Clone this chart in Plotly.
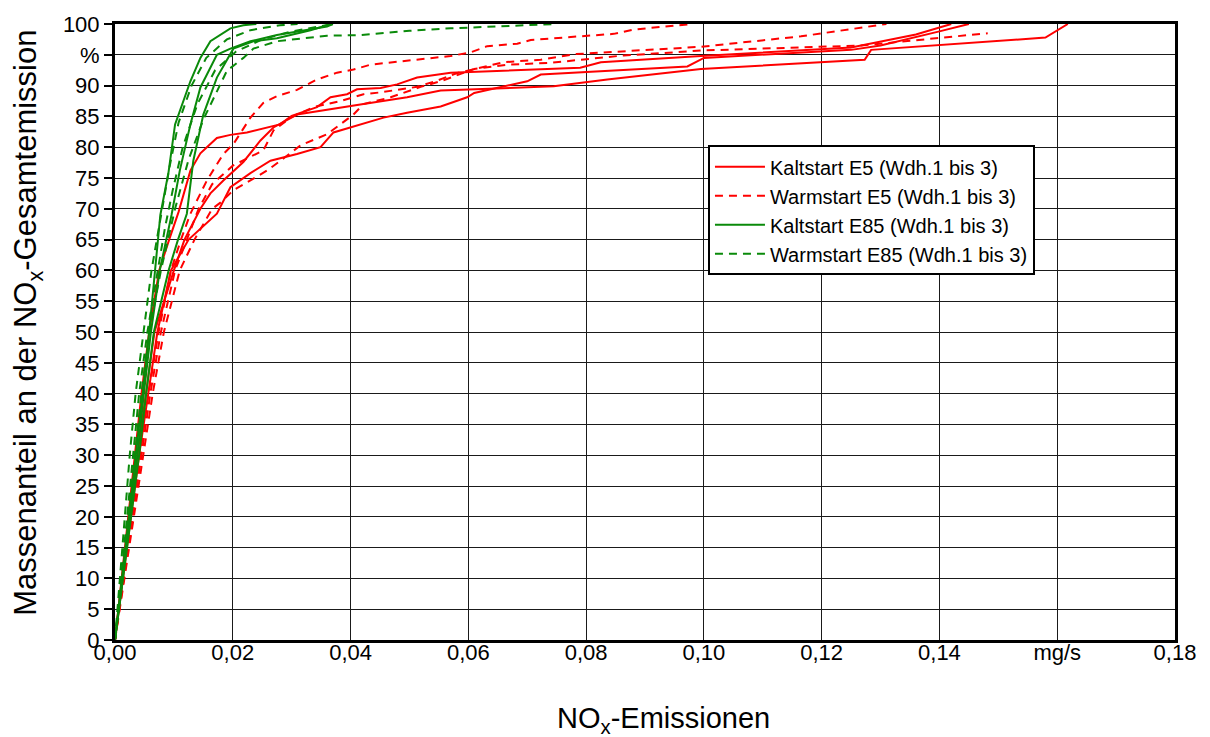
import plotly.graph_objects as go

# ---------------- data ----------------
x_ticks = [0.00, 0.02, 0.04, 0.06, 0.08, 0.10, 0.12, 0.14, 0.16, 0.18]
x_ticktext = ["0,00", "0,02", "0,04", "0,06", "0,08", "0,10", "0,12", "0,14", "mg/s", "0,18"]
y_ticks = list(range(0, 101, 5))
y_ticktext = [str(v) for v in range(0, 95, 5)] + ["%", "100"]

# Kaltstart E5 (red solid)
ks_e5_1_x = [0, 0.0011, 0.0022, 0.0033, 0.0045, 0.0058, 0.0075, 0.0092, 0.0108, 0.0128, 0.0145, 0.0156, 0.0173, 0.0196, 0.0224, 0.028, 0.030, 0.0343, 0.0366, 0.0394, 0.0411, 0.0451, 0.0479, 0.0513, 0.057, 0.079, 0.0825, 0.0995, 0.125, 0.136, 0.142]
ks_e5_1_y = [0, 10, 20, 30, 40, 50, 60, 65, 69.5, 76.2, 79, 80, 81.5, 82, 82.4, 83.7, 85.1, 86.5, 88.1, 88.6, 89.4, 89.6, 90.2, 91.3, 92.1, 92.9, 93.8, 94.8, 96.2, 98.3, 100]
ks_e5_2_x = [0, 0.0012, 0.0025, 0.0038, 0.0052, 0.0067, 0.0100, 0.0118, 0.0145, 0.0162, 0.0184, 0.0196, 0.0218, 0.0247, 0.0269, 0.0309, 0.0366, 0.0422, 0.0496, 0.0553, 0.0745, 0.0836, 0.0995, 0.1273, 0.1284, 0.158, 0.1618]
ks_e5_2_y = [0, 10, 20, 30, 40, 50, 60, 65, 70, 72.5, 74.6, 75.7, 77.6, 81.1, 83.2, 85.3, 86.2, 87, 88.1, 89.2, 89.9, 91, 92.7, 94.2, 95.8, 97.8, 100]
ks_e5_3_x = [0, 0.0013, 0.0027, 0.0041, 0.0056, 0.0072, 0.0095, 0.0125, 0.0173, 0.0196, 0.023, 0.0264, 0.0309, 0.0349, 0.0371, 0.04, 0.0456, 0.0496, 0.0553, 0.0598, 0.061, 0.07, 0.0723, 0.0972, 0.100, 0.125, 0.130, 0.140, 0.145]
ks_e5_3_y = [0, 10, 20, 30, 40, 50, 60, 65, 69.2, 73.5, 75.8, 77.8, 78.9, 80, 82.4, 83.2, 84.8, 85.6, 86.6, 88.1, 88.8, 90.7, 91.8, 93.1, 94.5, 95.8, 96.5, 98.8, 100]

# Warmstart E5 (red dashed)
ws_e5_1_x = [0, 0.0014, 0.0028, 0.0042, 0.0057, 0.0074, 0.0095, 0.0112, 0.0128, 0.0156, 0.0184, 0.0201, 0.023, 0.0252, 0.0275, 0.0309, 0.0343, 0.0377, 0.0405, 0.0434, 0.0541, 0.057, 0.0604, 0.0632, 0.0683, 0.0706, 0.079, 0.0847, 0.0881, 0.095, 0.098]
ws_e5_1_y = [0, 10, 20, 30, 40, 50, 60, 65, 69.2, 74.6, 78.9, 80.5, 84.8, 87.2, 88.3, 89.3, 91, 92.1, 92.6, 93.4, 94.5, 94.8, 95.4, 96.4, 96.8, 97.4, 98, 98.4, 99.1, 99.7, 100]
ws_e5_2_x = [0, 0.0015, 0.003, 0.0045, 0.006, 0.0078, 0.0102, 0.0122, 0.0142, 0.0165, 0.020, 0.0252, 0.0269, 0.0298, 0.0337, 0.0383, 0.0422, 0.0451, 0.0513, 0.0547, 0.058, 0.066, 0.0723, 0.078, 0.0836, 0.0921, 0.0995, 0.1165, 0.129, 0.131]
ws_e5_2_y = [0, 10, 20, 30, 40, 50, 60, 65, 70, 74, 77, 79.5, 82.7, 84.8, 86.5, 87.5, 88.6, 88.9, 89.8, 90.8, 92, 93.8, 94.2, 95.1, 95.4, 95.8, 96.3, 98, 99.8, 100]
ws_e5_3_x = [0, 0.0016, 0.0032, 0.0048, 0.0064, 0.0083, 0.011, 0.0135, 0.0165, 0.0179, 0.0201, 0.023, 0.0258, 0.0292, 0.0315, 0.036, 0.0383, 0.0405, 0.0422, 0.0468, 0.0519, 0.0553, 0.061, 0.0666, 0.074, 0.0796, 0.0864, 0.095, 0.0995, 0.1267, 0.1482]
ws_e5_3_y = [0, 10, 20, 30, 40, 50, 60, 65, 70, 71, 73, 74.6, 76.2, 78.6, 80.3, 82.1, 83.7, 85.3, 87, 88.1, 89.8, 90.7, 92.7, 93.4, 93.7, 94.2, 94.9, 95.4, 95.7, 96.5, 98.5]

# Kaltstart E85 (green solid)
ks_e85_1_x = [0, 0.0012, 0.0024, 0.0036, 0.0047, 0.0058, 0.0068, 0.0077, 0.0091, 0.0102, 0.0128, 0.0145, 0.0162, 0.0179, 0.0196, 0.0218, 0.024]
ks_e85_1_y = [0, 10, 20, 30, 40, 50, 60, 69, 76, 83.7, 90.7, 94.5, 97.2, 98.2, 99.3, 99.8, 100]
ks_e85_2_x = [0, 0.0013, 0.0026, 0.0038, 0.0049, 0.0061, 0.0076, 0.0096, 0.011, 0.0128, 0.0145, 0.0173, 0.0196, 0.023, 0.0275, 0.032, 0.036, 0.037]
ks_e85_2_y = [0, 10, 20, 30, 40, 50, 60, 69, 76.2, 83.7, 89.7, 95, 96, 97.2, 98.2, 99, 99.6, 100]
ks_e85_3_x = [0, 0.0014, 0.0028, 0.0041, 0.0053, 0.0066, 0.0091, 0.0107, 0.0122, 0.0133, 0.015, 0.0173, 0.0201, 0.0235, 0.0275, 0.0332, 0.036, 0.037]
ks_e85_3_y = [0, 10, 20, 30, 40, 50, 60, 65, 69.2, 77.8, 85.3, 91.3, 96, 97.2, 97.7, 99, 99.8, 100]

# Warmstart E85 (green dashed)
ws_e85_1_x = [0, 0.0008, 0.0016, 0.0025, 0.0035, 0.0048, 0.0062, 0.0071, 0.008, 0.0093, 0.0108, 0.013, 0.0155, 0.019, 0.023, 0.028, 0.031]
ws_e85_1_y = [0, 10, 20, 30, 40, 50, 60, 65, 70, 77, 84, 90, 94.5, 97.5, 99, 99.8, 100]
ws_e85_2_x = [0, 0.001, 0.002, 0.003, 0.0041, 0.0055, 0.0072, 0.0085, 0.0098, 0.0115, 0.014, 0.017, 0.0205, 0.025, 0.030, 0.035, 0.037]
ws_e85_2_y = [0, 10, 20, 30, 40, 50, 60, 67, 73, 80, 87, 92.5, 95.5, 97.5, 98.8, 99.7, 100]
ws_e85_3_x = [0, 0.0011, 0.0022, 0.0034, 0.0045, 0.0058, 0.0078, 0.0102, 0.0125, 0.015, 0.0175, 0.019, 0.0218, 0.0235, 0.0275, 0.036, 0.0417, 0.050, 0.057, 0.068, 0.075]
ws_e85_3_y = [0, 10, 20, 30, 40, 50, 60, 70, 78, 84.5, 89.5, 92.4, 94.5, 96, 97.2, 98.1, 98.2, 98.9, 99.3, 99.8, 100]

RED = "#FF0000"
GREEN = "#0A8A0A"
DASH = "8px,6px"

groups = [
    ("Kaltstart E5 (Wdh.1 bis 3)", RED, "solid",
     [(ks_e5_1_x, ks_e5_1_y), (ks_e5_2_x, ks_e5_2_y), (ks_e5_3_x, ks_e5_3_y)]),
    ("Warmstart E5 (Wdh.1 bis 3)", RED, DASH,
     [(ws_e5_1_x, ws_e5_1_y), (ws_e5_2_x, ws_e5_2_y), (ws_e5_3_x, ws_e5_3_y)]),
    ("Kaltstart E85 (Wdh.1 bis 3)", GREEN, "solid",
     [(ks_e85_1_x, ks_e85_1_y), (ks_e85_2_x, ks_e85_2_y), (ks_e85_3_x, ks_e85_3_y)]),
    ("Warmstart E85 (Wdh.1 bis 3)", GREEN, DASH,
     [(ws_e85_1_x, ws_e85_1_y), (ws_e85_2_x, ws_e85_2_y), (ws_e85_3_x, ws_e85_3_y)]),
]

fig = go.Figure()
for name, color, dash, curves in groups:
    for i, (xs, ys) in enumerate(curves):
        fig.add_trace(go.Scatter(
            x=xs, y=ys, mode="lines", name=name, legendgroup=name,
            showlegend=(i == 0),
            line=dict(color=color, width=2, dash=dash),
        ))

FONT = "Liberation Sans, Arial, sans-serif"

fig.update_layout(
    width=1210, height=737,
    margin=dict(l=115, r=35, t=19, b=97),
    paper_bgcolor="white", plot_bgcolor="white",
    font=dict(family=FONT, color="black", size=22),
    showlegend=True,
    legend=dict(
        x=0.5594, y=0.803, xanchor="left", yanchor="top",
        bgcolor="white", bordercolor="black", borderwidth=2,
        font=dict(family=FONT, size=20, color="black"),
        tracegroupgap=0, itemwidth=50,
    ),
    xaxis=dict(
        range=[0, 0.18], tickvals=x_ticks, ticktext=x_ticktext,
        showgrid=True, gridcolor="#1a1a1a", gridwidth=1,
        showline=True, linecolor="black", linewidth=3, mirror=True,
        ticks="", zeroline=False, tickfont=dict(size=22),
        ticklabelstandoff=-9,
    ),
    yaxis=dict(
        range=[0, 100], tickvals=y_ticks, ticktext=y_ticktext,
        showgrid=True, gridcolor="#1a1a1a", gridwidth=1,
        showline=True, linecolor="black", linewidth=3, mirror=True,
        ticks="outside", ticklen=8, tickwidth=2, tickcolor="black",
        zeroline=False, tickfont=dict(size=22),
    ),
    annotations=[
        dict(text="Massenanteil an der NO<sub>x</sub>-Gesamtemission",
             xref="paper", yref="paper", x=-0.082, y=0.515,
             xanchor="center", yanchor="middle", textangle=-90,
             showarrow=False, font=dict(family=FONT, size=31, color="black")),
        dict(text="NO<sub>x</sub>-Emissionen",
             xref="paper", yref="paper", x=0.517, y=-0.130,
             xanchor="center", yanchor="middle",
             showarrow=False, font=dict(family=FONT, size=29, color="black")),
    ],
)

fig.write_html("out.html")
